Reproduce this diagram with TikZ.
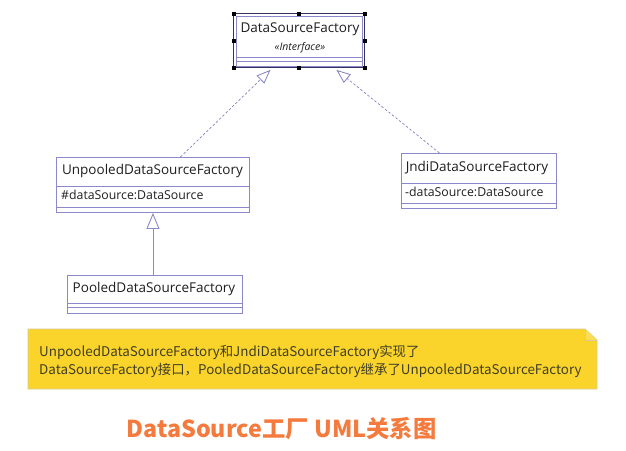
\documentclass[tikz,border=0pt]{standalone}
\usepackage{fontspec}
\setmainfont{Open Sans}
\newfontfamily\cjk{Noto Sans CJK SC}
\usetikzlibrary{arrows.meta}
\definecolor{umlline}{RGB}{140,136,204}
\definecolor{umldark}{RGB}{50,50,90}
\definecolor{dashcol}{RGB}{128,128,196}
\definecolor{umltext}{RGB}{30,30,30}
\definecolor{notefill}{RGB}{250,212,42}
\definecolor{noteborder}{RGB}{214,202,150}
\definecolor{notetext}{RGB}{65,62,40}
\definecolor{titlecol}{RGB}{244,123,61}
\tikzset{
  cls/.style={draw=umlline, line width=0.9pt, rectangle, inner sep=0pt, anchor=north west},
  sep/.style={draw=umlline, line width=0.9pt},
  nm/.style={font=\fontsize{13.5}{15}\selectfont, text=umltext, inner sep=0pt},
  attr/.style={font=\fontsize{12.3}{14}\selectfont, text=umltext, inner sep=0pt, anchor=west},
  handle/.style={fill=black, draw=none, minimum size=4pt, inner sep=0pt, rectangle},
  realize/.style={draw=dashcol, line width=0.7pt, dash pattern=on 2.5pt off 2pt,
    -{Triangle[open, length=14pt, width=11pt, line width=0.8pt, fill=white]}},
  inherit/.style={draw=umlline, line width=0.9pt,
    -{Triangle[open, length=16pt, width=13pt, line width=0.9pt, fill=white]}},
}
\begin{document}
\begin{tikzpicture}[x=1pt, y=-1pt]
\useasboundingbox (0,0) rectangle (626,450);

% DataSourceFactory (selected interface)
\node[cls, minimum width=126pt, minimum height=50pt] (dsf) at (236,16) {};
\draw[umldark, line width=1.1pt] (233.5,13.5) rectangle (364.5,67.5);
\draw[sep] (236,57) -- (362,57);
\draw[sep] (236,61) -- (362,61);
\node[nm] (dsfname) at (300,29) {DataSourceFactory};
\node[font=\itshape\fontsize{10.5}{12}\selectfont, text=umltext, inner sep=0pt] (dsfst) at (300,48) {«Interface»};
\foreach \hx/\hy [count=\i] in {233.5/13.5, 299/13.5, 364.5/13.5, 233.5/40.5, 364.5/40.5, 233.5/67.5, 299/67.5, 364.5/67.5}
  \node[handle] (h\i) at (\hx,\hy) {};

% UnpooledDataSourceFactory
\node[cls, minimum width=193pt, minimum height=55pt] (unp) at (56,157) {};
\draw[sep] (56,186) -- (249,186);
\draw[sep] (56,207) -- (249,207);
\node[nm] (unpname) at (152.5,171) {UnpooledDataSourceFactory};
\node[attr] (unpattr) at (61,195) {\#dataSource:DataSource};

% PooledDataSourceFactory
\node[cls, minimum width=175pt, minimum height=38pt] (pool) at (67,275) {};
\draw[sep] (67,303) -- (242,303);
\draw[sep] (67,307) -- (242,307);
\node[nm] (poolname) at (154,289) {PooledDataSourceFactory};

% JndiDataSourceFactory
\node[cls, minimum width=155pt, minimum height=55pt] (jndi) at (401,153) {};
\draw[sep] (401,183) -- (556,183);
\draw[sep] (401,203) -- (556,203);
\node[nm] (jndiname) at (477,168) {JndiDataSourceFactory};
\node[attr] (jndiattr) at (405,192) {-dataSource:DataSource};

% connectors
\draw[realize] ([xshift=27.5pt]unp.north) -- ([xshift=-29pt,yshift=-3pt]dsf.south);
\draw[realize] ([xshift=-39.5pt]jndi.north) -- ([xshift=37pt,yshift=-3pt]dsf.south);
\draw[inherit] (pool.north -| unp.south) -- (unp.south);

% note
\draw[fill=notefill, draw=noteborder, line width=0.8pt]
  (28,329) -- (585,329) -- (597,340) -- (597,389) -- (28,389) -- cycle;
\draw[draw=noteborder, line width=0.8pt, fill=notefill!80!white] (585,329) -- (585,340) -- (597,340);
\node[font=\cjk\fontsize{13.4}{18}\selectfont, text=notetext, anchor=west, align=left, inner sep=0pt] (note) at (39,361)
  {UnpooledDataSourceFactory和JndiDataSourceFactory实现了\\DataSourceFactory接口，PooledDataSourceFactory继承了UnpooledDataSourceFactory};

% title
\node[font=\cjk\bfseries\fontsize{23.3}{27}\selectfont, text=titlecol, inner sep=0pt] (title) at (281.5,429) {DataSource工厂 UML关系图};
\end{tikzpicture}
\end{document}
